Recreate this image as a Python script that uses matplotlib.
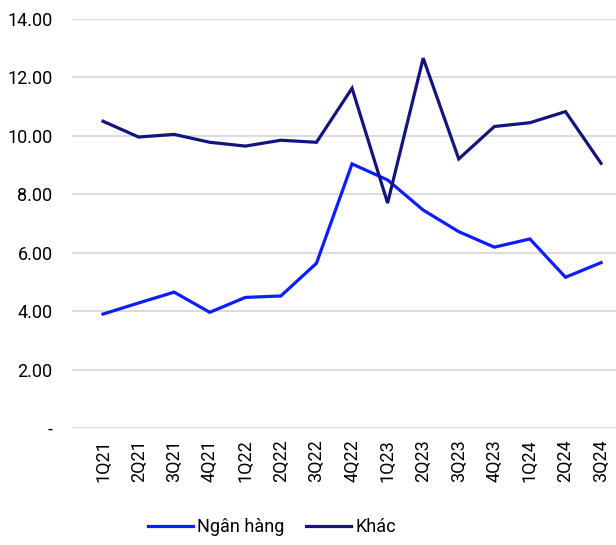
import matplotlib
matplotlib.use("Agg")
import matplotlib.pyplot as plt
from matplotlib.ticker import FuncFormatter

plt.rcParams['font.family'] = ['Roboto', 'DejaVu Sans']

categories = ["1Q21", "2Q21", "3Q21", "4Q21", "1Q22", "2Q22", "3Q22", "4Q22",
              "1Q23", "2Q23", "3Q23", "4Q23", "1Q24", "2Q24", "3Q24"]
ngan_hang = [3.90, 4.28, 4.65, 3.96, 4.47, 4.52, 5.64, 9.04,
             8.49, 7.46, 6.72, 6.19, 6.47, 5.16, 5.66]
khac = [10.50, 9.96, 10.05, 9.78, 9.65, 9.85, 9.78, 11.63,
        7.70, 12.66, 9.21, 10.32, 10.45, 10.83, 9.06]

fig = plt.figure(figsize=(6.16, 5.45), dpi=100)
ax = fig.add_axes([72/616, 1 - 428/545, 544/616, 409/545])

x = list(range(len(categories)))
ax.plot(x, ngan_hang, color="#0A1EFF", lw=2.3, label="Ngân hàng", solid_joinstyle="miter")
ax.plot(x, khac, color="#14147A", lw=2.3, label="Khác", solid_joinstyle="miter")

ax.set_ylim(0, 14)
ax.set_yticks([0, 2, 4, 6, 8, 10, 12, 14])
ax.yaxis.set_major_formatter(FuncFormatter(lambda v, p: "-" if v == 0 else f"{v:.2f}"))
ax.set_xlim(-0.872, 14.42)
ax.set_xticks(x)
ax.set_xticklabels(categories, rotation=90)

ax.grid(axis="y", color="#D9D9D9", lw=1.3)
ax.set_axisbelow(True)
for s in ax.spines.values():
    s.set_visible(False)
ax.tick_params(axis="both", length=0, labelsize=13, colors="#000000")
ax.tick_params(axis="y", pad=14)
ax.tick_params(axis="x", pad=8)

fig.legend(loc="center", bbox_to_anchor=(272/616, 1 - 527/545), ncol=2, frameon=False,
           fontsize=13, handlelength=2.5, handletextpad=0.22, columnspacing=1.2,
           borderaxespad=0, borderpad=0)

fig.savefig("out.png", dpi=100)
